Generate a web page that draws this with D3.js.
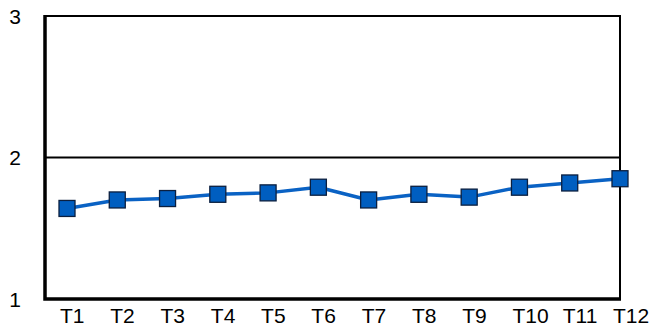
<!DOCTYPE html>
<html>
<head>
<meta charset="utf-8">
<script src="https://cdn.jsdelivr.net/npm/d3@7/dist/d3.min.js"></script>
<style>
  html, body { margin: 0; padding: 0; background: #fff; }
  svg { display: block; font-family: "Liberation Sans", Arial, sans-serif; }
</style>
</head>
<body>
<script>
// Series data
const categories = ["T1","T2","T3","T4","T5","T6","T7","T8","T9","T10","T11","T12"];
const values = [1.64, 1.70, 1.71, 1.74, 1.75, 1.79, 1.70, 1.74, 1.72, 1.79, 1.82, 1.85];
const yTicks = [1, 2, 3];

const W = 652, H = 325;
const plotLeft = 45, plotRight = 620, plotTop = 16, plotBottom = 299;

const svg = d3.select("body").append("svg").attr("width", W).attr("height", H);

const x = d3.scalePoint().domain(categories).range([67, plotRight]);
const y = d3.scaleLinear().domain([1, 3]).range([plotBottom, plotTop]);

// Horizontal gridlines at 2 and 3
svg.append("g").selectAll("line").data(yTicks.filter(d => d > 1)).join("line")
  .attr("x1", plotLeft).attr("x2", plotRight)
  .attr("y1", d => y(d)).attr("y2", d => y(d))
  .attr("stroke", "#000").attr("stroke-width", 2);

// Right border
svg.append("line")
  .attr("x1", plotRight).attr("x2", plotRight).attr("y1", plotTop - 1).attr("y2", plotBottom)
  .attr("stroke", "#000").attr("stroke-width", 2);

// Left and bottom axes (thick)
svg.append("path")
  .attr("d", `M${plotLeft},${plotTop - 1}V${plotBottom}H${plotRight + 1}`)
  .attr("fill", "none").attr("stroke", "#000").attr("stroke-width", 3.5);

// Y tick labels
svg.append("g").selectAll("text").data(yTicks).join("text")
  .attr("x", 15).attr("y", d => y(d) + 7.5)
  .attr("text-anchor", "middle")
  .attr("font-size", 21).attr("fill", "#000")
  .text(d => d);

// X tick labels
svg.append("g").selectAll("text").data(categories).join("text")
  .attr("x", d => x(d) - 7).attr("y", 323)
  .attr("text-anchor", "start")
  .attr("font-size", 21).attr("fill", "#000")
  .text(d => d);

const pts = categories.map((c, i) => [x(c), y(values[i])]);

// Line
svg.append("path")
  .attr("d", d3.line()(pts))
  .attr("fill", "none").attr("stroke", "#0A62C4").attr("stroke-width", 3.5)
  .attr("stroke-linejoin", "round");

// Square markers
const s = 16;
svg.append("g").selectAll("rect").data(pts).join("rect")
  .attr("x", d => d[0] - s / 2).attr("y", d => d[1] - s / 2)
  .attr("width", s).attr("height", s)
  .attr("fill", "#005EC0").attr("stroke", "#0B1F3F").attr("stroke-width", 1.3);
</script>
</body>
</html>
